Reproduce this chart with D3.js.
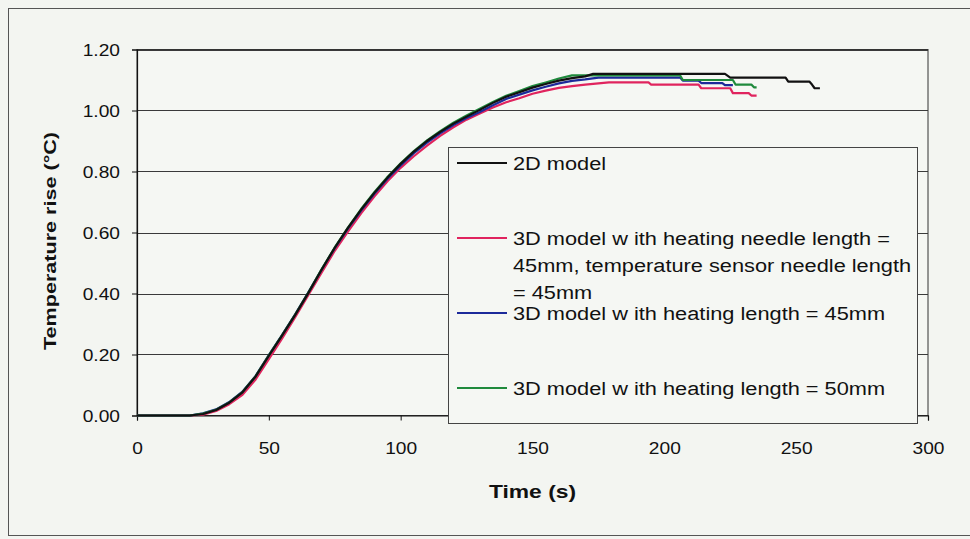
<!DOCTYPE html>
<html>
<head>
<meta charset="utf-8">
<script src="https://cdn.jsdelivr.net/npm/d3@7"></script>
<style>
  html, body { margin: 0; padding: 0; background: #f3f5f1; }
  svg { display: block; }
  text { font-family: "Liberation Sans", Arial, sans-serif; fill: #111; }
</style>
</head>
<body>
<svg id="chart" width="970" height="539"></svg>
<script>
// ---------------- data ----------------
const xTicks = [0, 50, 100, 150, 200, 250, 300];
const yTicks = [0.00, 0.20, 0.40, 0.60, 0.80, 1.00, 1.20];

const seriesNames = [
  "2D model",
  "3D model w ith heating needle length = 45mm, temperature sensor needle length = 45mm",
  "3D model w ith heating length = 45mm",
  "3D model w ith heating length = 50mm"
];
const seriesColors = ["#111111", "#e0245e", "#1c2a9a", "#1f8a3c"];

// 2D model
const time2D  = [0, 20, 25, 30, 35, 40, 45, 50, 55, 60, 65, 70, 75, 80, 85, 90, 95, 100, 105, 110, 115, 120, 125, 130, 135, 140, 145, 150, 155, 160, 165, 170, 173, 223, 225, 246, 247, 255, 256, 257, 259];
const temp2D  = [0, 0, 0.005, 0.018, 0.042, 0.076, 0.128, 0.196, 0.262, 0.330, 0.402, 0.478, 0.550, 0.615, 0.675, 0.730, 0.780, 0.825, 0.865, 0.900, 0.930, 0.957, 0.980, 1.002, 1.025, 1.045, 1.060, 1.075, 1.087, 1.098, 1.106, 1.112, 1.120, 1.120, 1.108, 1.108, 1.095, 1.095, 1.085, 1.073, 1.073];

// 3D heating needle 45mm, sensor needle 45mm
const timeN45 = [0, 20, 25, 30, 35, 40, 45, 50, 55, 60, 65, 70, 75, 80, 85, 90, 95, 100, 105, 110, 115, 120, 125, 130, 135, 140, 145, 150, 155, 160, 165, 170, 179, 194, 195, 213, 214, 225, 226, 232, 233, 235];
const tempN45 = [0, 0, 0.003, 0.015, 0.037, 0.068, 0.118, 0.185, 0.252, 0.322, 0.395, 0.468, 0.540, 0.603, 0.663, 0.718, 0.768, 0.812, 0.850, 0.885, 0.917, 0.945, 0.970, 0.990, 1.010, 1.027, 1.040, 1.055, 1.065, 1.074, 1.080, 1.085, 1.092, 1.092, 1.085, 1.085, 1.073, 1.073, 1.057, 1.057, 1.049, 1.049];

// 3D heating length 45mm
const timeH45 = [0, 20, 25, 30, 35, 40, 45, 50, 55, 60, 65, 70, 75, 80, 85, 90, 95, 100, 105, 110, 115, 120, 125, 130, 135, 140, 145, 150, 155, 160, 165, 170, 175, 206, 207, 213, 214, 222, 223, 226];
const tempH45 = [0, 0, 0.007, 0.020, 0.044, 0.078, 0.130, 0.198, 0.264, 0.332, 0.404, 0.478, 0.549, 0.613, 0.672, 0.727, 0.776, 0.820, 0.860, 0.895, 0.925, 0.952, 0.975, 0.995, 1.017, 1.038, 1.052, 1.066, 1.078, 1.089, 1.097, 1.102, 1.108, 1.108, 1.098, 1.098, 1.090, 1.090, 1.083, 1.083];

// 3D heating length 50mm
const timeH50 = [0, 20, 25, 30, 35, 40, 45, 50, 55, 60, 65, 70, 75, 80, 85, 90, 95, 100, 105, 110, 115, 120, 125, 130, 135, 140, 145, 150, 155, 160, 165, 206, 207, 226, 227, 233, 234, 235];
const tempH50 = [0, 0, 0.006, 0.019, 0.043, 0.077, 0.129, 0.197, 0.263, 0.331, 0.403, 0.479, 0.551, 0.616, 0.677, 0.732, 0.782, 0.827, 0.867, 0.902, 0.932, 0.960, 0.984, 1.006, 1.028, 1.048, 1.064, 1.080, 1.092, 1.105, 1.115, 1.115, 1.100, 1.100, 1.085, 1.085, 1.076, 1.076];

const seriesTimes = [time2D, timeN45, timeH45, timeH50];
const seriesTemps = [temp2D, tempN45, tempH45, tempH50];

// ---------------- drawing ----------------
const svg = d3.select("#chart");
const SX = 1.13; // horizontal text stretch seen in the scan

const x = d3.scaleLinear().domain([0, 300]).range([137, 928]);
const y = d3.scaleLinear().domain([0, 1.2]).range([415.5, 49.5]);

// outer frame
svg.append("rect").attr("x", 8.5).attr("y", 8.5).attr("width", 975).attr("height", 527)
  .attr("fill", "#f3f5f1").attr("stroke", "#555").attr("stroke-width", 1);

// plot area
svg.append("rect").attr("x", x(0)).attr("y", y(1.2)).attr("width", x(300) - x(0)).attr("height", y(0) - y(1.2))
  .attr("fill", "#f5f7f3").attr("stroke", "#333").attr("stroke-width", 1);

// gridlines
svg.append("g").selectAll("line").data(yTicks.filter(d => d > 0)).join("line")
  .attr("x1", x(0)).attr("x2", x(300))
  .attr("y1", d => Math.round(y(d)) + 0.5).attr("y2", d => Math.round(y(d)) + 0.5)
  .attr("stroke", "#3a3a3a").attr("stroke-width", 1);

// axes
const yAxis = svg.append("g").attr("transform", `translate(${x(0)},0)`)
  .call(d3.axisLeft(y).tickValues(yTicks).tickSize(5).tickFormat(d3.format(".2f")));
const xAxis = svg.append("g").attr("transform", `translate(0,${y(0)})`)
  .call(d3.axisBottom(x).tickValues(xTicks).tickSize(5).tickFormat(d3.format("d")));

[yAxis, xAxis].forEach(g => {
  g.select(".domain").attr("stroke", "#111").attr("stroke-width", 1.2);
  g.selectAll(".tick line").attr("stroke", "#111");
  g.selectAll(".tick text").attr("font-size", 17).attr("fill", "#111")
    .attr("font-family", "Liberation Sans, Arial, sans-serif");
});
yAxis.selectAll(".tick text")
  .attr("text-anchor", "end").attr("dy", "0.36em")
  .attr("transform", `scale(${SX},1)`).attr("x", -17 / SX);
xAxis.selectAll(".tick text").attr("y", 26).attr("dy", "0.71em")
  .attr("transform", `scale(${SX},1)`);

// series lines
const line = d3.line().x(d => x(d[0])).y(d => y(d[1]));
const order = [1, 2, 3, 0];
order.forEach(i => {
  const pts = seriesTimes[i].map((t, k) => [t, seriesTemps[i][k]]);
  svg.append("path").datum(pts).attr("d", line)
    .attr("fill", "none").attr("stroke", seriesColors[i]).attr("stroke-width", 2.2)
    .attr("stroke-linejoin", "round");
});

// axis titles
svg.append("text").attr("transform", `translate(${x(150)},498) scale(1.27,1)`)
  .attr("text-anchor", "middle").attr("font-size", 18).attr("font-weight", "bold").text("Time (s)");
svg.append("text").attr("transform", `translate(56,241) rotate(-90) scale(1.27,1)`)
  .attr("text-anchor", "middle").attr("font-size", 17).attr("font-weight", "bold").text("Temperature rise (°C)");

// legend
const legend = svg.append("g");
legend.append("rect").attr("x", 448.5).attr("y", 147.5).attr("width", 469).attr("height", 276)
  .attr("fill", "#f5f7f3").attr("stroke", "#444").attr("stroke-width", 1);

const legendLines = [
  ["2D model"],
  ["3D model w ith heating needle length =", "45mm, temperature sensor needle length", "= 45mm"],
  ["3D model w ith heating length = 45mm"],
  ["3D model w ith heating length = 50mm"]
];
const legendY = [163, 238, 313, 388];
legendLines.forEach((lines, i) => {
  legend.append("line").attr("x1", 457).attr("x2", 507)
    .attr("y1", legendY[i]).attr("y2", legendY[i])
    .attr("stroke", seriesColors[i]).attr("stroke-width", 2);
  lines.forEach((s, k) => {
    legend.append("text")
      .attr("transform", `translate(513,${legendY[i] + 7 + k * 27}) scale(1.21,1)`)
      .attr("font-size", 18).text(s);
  });
});
</script>
</body>
</html>
